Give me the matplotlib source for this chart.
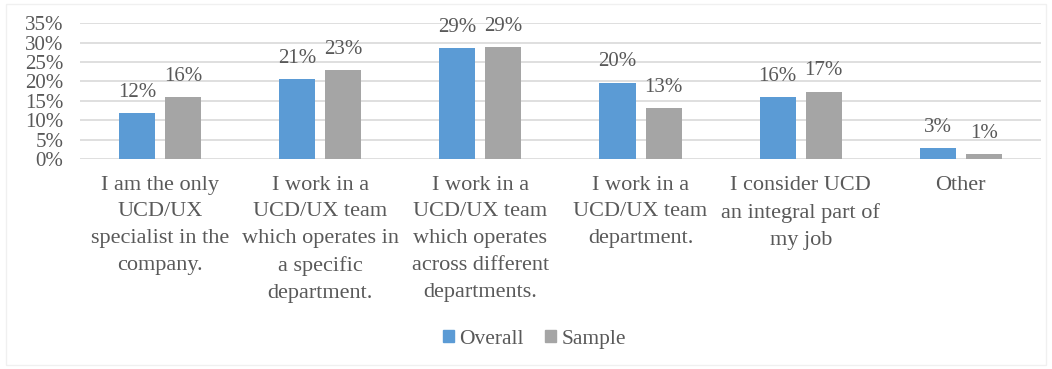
import matplotlib.pyplot as plt
import matplotlib.patches as mpatches
import numpy as np
from matplotlib.ticker import PercentFormatter

# ── Data ──────────────────────────────────────────────────────────────────────
categories = [
    "I am the only\nUCD/UX\nspecialist in the\ncompany.",
    "I work in a\nUCD/UX team\nwhich operates in\na specific\ndepartment.",
    "I work in a\nUCD/UX team\nwhich operates\nacross different\ndepartments.",
    "I work in a\nUCD/UX team\ndepartment.",
    "I consider UCD\nan integral part of\nmy job",
    "Other",
]
overall = [0.119, 0.206, 0.286, 0.197, 0.159, 0.029]
sample = [0.159, 0.229, 0.289, 0.132, 0.174, 0.013]
series_names = ["Overall", "Sample"]
y_ticks = [0, 0.05, 0.10, 0.15, 0.20, 0.25, 0.30, 0.35]

# ── Style ─────────────────────────────────────────────────────────────────────
BLUE = "#5B9BD5"
GRAY = "#A5A5A5"
TEXT = "#595959"
GRID = "#D9D9D9"
plt.rcParams["font.family"] = ["Liberation Serif", "DejaVu Serif"]

fig = plt.figure(figsize=(10.52, 3.69), dpi=100)
fig.patch.set_facecolor("white")
ax = fig.add_axes([0.076, 0.569, 0.9135, 0.368])

x = np.arange(len(categories))
w = 0.225
gap = 0.0625
b1 = ax.bar(x - (w + gap) / 2, overall, w, color=BLUE, zorder=3)
b2 = ax.bar(x + (w + gap) / 2, sample, w, color=GRAY, zorder=3)

# ── Value labels ──────────────────────────────────────────────────────────────
for bars, vals in ((b1, overall), (b2, sample)):
    for bar, v in zip(bars, vals):
        ax.annotate(f"{v:.0%}", (bar.get_x() + bar.get_width() / 2, v),
                    xytext=(0, 8), textcoords="offset points",
                    ha="center", va="bottom", fontsize=15, color=TEXT)

# ── Axes ──────────────────────────────────────────────────────────────────────
ax.set_ylim(0, 0.35)
ax.set_xlim(-0.5, len(categories) - 0.5)
ax.set_yticks(y_ticks)
ax.yaxis.set_major_formatter(PercentFormatter(1.0, decimals=0))
ax.set_xticks(x)
ax.set_xticklabels(categories, fontsize=16, color=TEXT, linespacing=1.55,
                   va="top")
ax.tick_params(axis="y", length=0, labelsize=15, labelcolor=TEXT, pad=12)
ax.tick_params(axis="x", length=0, pad=12)
ax.yaxis.grid(True, color=GRID, linewidth=1.2, zorder=0)
for s in ax.spines.values():
    s.set_visible(False)

handles = [mpatches.Patch(color=BLUE, label=series_names[0]),
           mpatches.Patch(color=GRAY, label=series_names[1])]
fig.legend(handles=handles, loc="center", bbox_to_anchor=(0.508, 0.08),
           ncol=2, frameon=False, fontsize=15.5, labelcolor=TEXT,
           handlelength=0.5, handleheight=0.5, handletextpad=0.25,
           columnspacing=1.0)

# faint outer frame
fig.add_artist(mpatches.Rectangle((0.006, 0.01), 0.988, 0.98,
                                  transform=fig.transFigure, fill=False,
                                  edgecolor="#F0F0F0", linewidth=1))

fig.savefig("out.png", dpi=100, facecolor="white")
